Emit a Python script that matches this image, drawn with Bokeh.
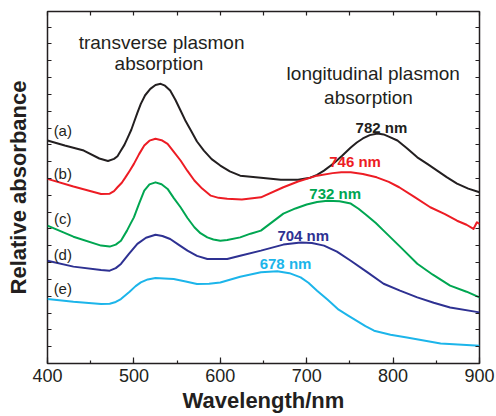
from bokeh.plotting import figure
from bokeh.models import Range1d, LinearAxis, SingleIntervalTicker, Label, CustomJSTickFormatter
from bokeh.embed import file_html
from bokeh.resources import INLINE

# ---- data (wavelength / nm, relative absorbance) ----
wl_a = [400, 420, 442, 460, 470, 477, 481, 485, 489, 493, 497, 500, 504, 508, 513, 519, 525, 531, 536, 542, 548, 554, 560, 566, 573, 581, 590, 600, 611, 623, 647, 670, 690, 704, 712, 720, 731, 741, 751, 758, 765, 773, 782, 789, 795, 805, 816, 828, 840, 851, 862, 874, 887, 900]
abs_a = [1.326, 1.296, 1.266, 1.219, 1.204, 1.217, 1.232, 1.266, 1.300, 1.345, 1.390, 1.433, 1.490, 1.544, 1.595, 1.633, 1.656, 1.663, 1.652, 1.623, 1.568, 1.504, 1.440, 1.385, 1.320, 1.266, 1.215, 1.177, 1.142, 1.117, 1.105, 1.093, 1.092, 1.105, 1.122, 1.147, 1.189, 1.235, 1.284, 1.314, 1.338, 1.358, 1.367, 1.362, 1.349, 1.326, 1.280, 1.226, 1.185, 1.147, 1.108, 1.070, 1.040, 1.018]

wl_b = [400, 430, 462, 472, 477, 481, 486, 490, 495, 500, 506, 512, 518, 525, 532, 539, 546, 554, 562, 570, 579, 589, 598, 608, 625, 647, 673, 690, 712, 730, 740, 751, 765, 781, 795, 807, 825, 843, 860, 874, 885, 893, 897, 900]
abs_b = [1.098, 1.052, 1.008, 1.010, 1.025, 1.048, 1.075, 1.105, 1.145, 1.187, 1.245, 1.296, 1.325, 1.336, 1.328, 1.306, 1.260, 1.207, 1.145, 1.088, 1.040, 0.998, 0.985, 0.979, 0.975, 0.988, 1.048, 1.082, 1.117, 1.132, 1.137, 1.137, 1.127, 1.107, 1.080, 1.048, 0.989, 0.929, 0.888, 0.849, 0.825, 0.800, 0.840, 0.830]

wl_c = [400, 430, 462, 472, 479, 485, 492, 496, 500, 506, 512, 518, 525, 532, 539, 546, 554, 562, 570, 577, 585, 592, 600, 608, 623, 635, 647, 673, 687, 700, 712, 724, 738, 751, 760, 770, 780, 789, 808, 828, 846, 866, 885, 900]
abs_c = [0.820, 0.754, 0.701, 0.695, 0.707, 0.730, 0.790, 0.830, 0.869, 0.950, 1.028, 1.065, 1.077, 1.066, 1.038, 0.985, 0.929, 0.865, 0.810, 0.775, 0.750, 0.737, 0.730, 0.734, 0.750, 0.772, 0.790, 0.891, 0.922, 0.945, 0.960, 0.968, 0.965, 0.951, 0.920, 0.879, 0.835, 0.790, 0.695, 0.593, 0.528, 0.463, 0.427, 0.393]

wl_d = [400, 430, 462, 472, 479, 485, 494, 504, 514, 525, 533, 542, 552, 562, 573, 585, 608, 623, 647, 673, 693, 706, 720, 735, 751, 770, 789, 808, 828, 847, 866, 900]
abs_d = [0.611, 0.576, 0.556, 0.552, 0.567, 0.592, 0.650, 0.711, 0.748, 0.766, 0.758, 0.740, 0.705, 0.671, 0.640, 0.621, 0.621, 0.641, 0.671, 0.707, 0.720, 0.716, 0.701, 0.665, 0.611, 0.543, 0.474, 0.433, 0.393, 0.361, 0.333, 0.304]

wl_e = [400, 430, 462, 472, 479, 485, 495, 502, 508, 516, 525, 535, 546, 560, 573, 587, 600, 623, 647, 666, 680, 693, 702, 712, 724, 737, 748, 758, 768, 778, 797, 816, 855, 900]
abs_e = [0.383, 0.367, 0.354, 0.355, 0.366, 0.383, 0.427, 0.460, 0.482, 0.500, 0.508, 0.506, 0.502, 0.488, 0.473, 0.474, 0.482, 0.516, 0.542, 0.548, 0.537, 0.512, 0.480, 0.433, 0.380, 0.320, 0.285, 0.254, 0.222, 0.195, 0.171, 0.155, 0.119, 0.105]

series_names = ["(a)", "(b)", "(c)", "(d)", "(e)"]
peak_labels = ["782 nm", "746 nm", "732 nm", "704 nm", "678 nm"]
x_ticks_step = 100

INK = "#231f20"
colors = ["#231f20", "#ed1c24", "#00a651", "#2e3192", "#1cb5ea"]
FONT = "Liberation Sans"

p = figure(width=496, height=416, output_backend="svg", toolbar_location=None,
           x_range=Range1d(400, 900), y_range=Range1d(0, 2.093),
           x_axis_location=None, y_axis_location=None,
           min_border_left=47, min_border_right=17, min_border_top=11, min_border_bottom=53)
p.xgrid.grid_line_color = None
p.ygrid.grid_line_color = None
p.outline_line_color = INK
p.outline_line_width = 1.5
p.background_fill_color = "white"
p.border_fill_color = "white"

blank = CustomJSTickFormatter(code="return '';")

def style_axis(ax, tick_in, minor_in=0, labels=False):
    ax.axis_line_color = None
    ax.major_tick_in = tick_in
    ax.major_tick_out = 0
    ax.minor_tick_in = minor_in
    ax.minor_tick_out = 0
    ax.major_tick_line_color = INK
    ax.minor_tick_line_color = INK if minor_in else None
    ax.major_tick_line_width = 1.2
    ax.minor_tick_line_width = 1.2
    if labels:
        ax.major_label_text_font = FONT
        ax.major_label_text_font_size = "18px"
        ax.major_label_text_color = INK
        ax.major_label_standoff = 5
    else:
        ax.formatter = blank
        ax.major_label_text_font_size = "1px"
        ax.major_label_standoff = 0

bottom = LinearAxis(ticker=SingleIntervalTicker(interval=x_ticks_step, num_minor_ticks=2))
style_axis(bottom, 6, 3, labels=True)
bottom.axis_label = "Wavelength/nm"
bottom.axis_label_text_font = FONT
bottom.axis_label_text_font_size = "22px"
bottom.axis_label_text_font_style = "bold"
bottom.axis_label_text_color = INK
bottom.axis_label_standoff = 3
p.add_layout(bottom, "below")

top = LinearAxis(ticker=SingleIntervalTicker(interval=50, num_minor_ticks=0))
style_axis(top, 4)
p.add_layout(top, "above")

left = LinearAxis(ticker=SingleIntervalTicker(interval=0.1, num_minor_ticks=0))
style_axis(left, 4)
left.axis_label = "Relative absorbance"
left.axis_label_text_font = FONT
left.axis_label_text_font_size = "22px"
left.axis_label_text_font_style = "bold"
left.axis_label_text_color = INK
left.axis_label_standoff = 17
p.add_layout(left, "left")

right = LinearAxis(ticker=SingleIntervalTicker(interval=0.1, num_minor_ticks=0))
style_axis(right, 4)
p.add_layout(right, "right")

all_wl = [wl_a, wl_b, wl_c, wl_d, wl_e]
all_abs = [abs_a, abs_b, abs_c, abs_d, abs_e]
for wl, ab, col in zip(all_wl, all_abs, colors):
    p.line(wl, ab, line_color=col, line_width=2, line_join="round")

def lab(x, y, text, size, color=INK, bold=False):
    p.add_layout(Label(x=x, y=y, text=text, text_font=FONT, text_font_size=size,
                       text_color=color, text_font_style="bold" if bold else "normal",
                       text_align="center", text_baseline="middle"))

lab(532, 1.911, "transverse plasmon", "19px")
lab(529, 1.782, "absorption", "19px")
lab(777, 1.723, "longitudinal plasmon", "19px")
lab(771.5, 1.583, "absorption", "19px")

peak_pos = [(786.5, 1.405), (756, 1.200), (733, 1.012), (696, 0.764), (675.5, 0.592)]
for (x, y), t, c in zip(peak_pos, peak_labels, colors):
    lab(x, y, t, "15px", color=c, bold=True)

name_y = [1.385, 1.127, 0.860, 0.651, 0.443]
for y, t in zip(name_y, series_names):
    lab(417.7, y, t, "15px")

open("out.html", "w").write(file_html(p, INLINE))
